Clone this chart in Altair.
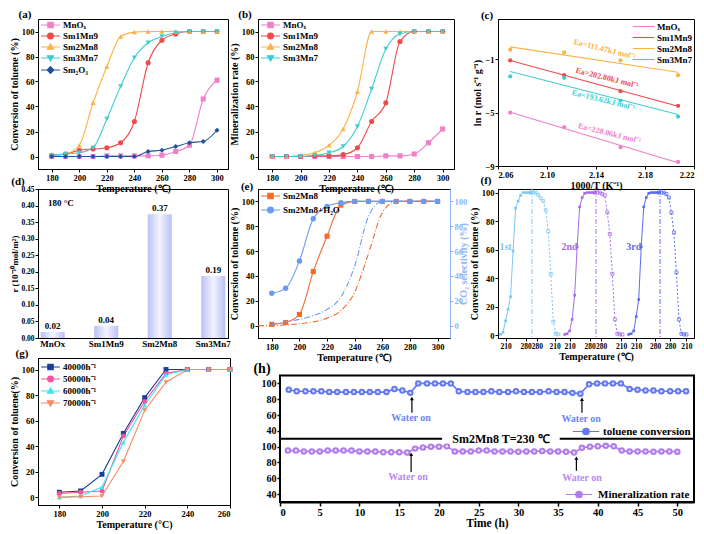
import altair as alt
import pandas as pd

FONT = "Liberation Serif"

# ---------------- (a) conversion of toluene ----------------
temps = [180, 190, 200, 210, 220, 230, 240, 250, 260, 270, 280, 290, 300]
a_names = ["MnOₓ", "Sm1Mn9", "Sm2Mn8", "Sm3Mn7", "Sm₂O₃"]
a_mnox = [0, 0, 0, 0, 0.5, 0.5, 0.5, 0.5, 1, 4, 9, 46, 61]
a_sm1mn9 = [1, 2, 5, 6, 7, 11, 28, 75, 93, 98, 100, 100, 100]
a_sm2mn8 = [1, 2, 9, 43, 72, 96, 99.5, 100, 100, 100, 100, 100, 100]
a_sm3mn7 = [1, 2, 3, 7, 30, 56, 79, 91, 96, 99, 100, 100, 100]
a_sm2o3 = [0, 0, 0, 0, 0, 0, 0, 4, 5, 8, 11, 12, 21]

# ---------------- (b) mineralization rate ----------------
b_names = ["MnOₓ", "Sm1Mn9", "Sm2Mn8", "Sm3Mn7"]
b_mnox = [0, 0, 0, 0, 0, 0, 0, 0, 0.5, 0.5, 2, 11, 22]
b_sm1mn9 = [0, 0, 0, 0.5, 0.5, 1.5, 7, 28, 43, 92, 100, 100, 100]
b_sm2mn8 = [0, 0, 1, 3, 9, 22, 52, 100, 100, 100, 100, 100, 100]
b_sm3mn7 = [0, 0, 0, 1, 3, 8, 24, 54, 86, 98, 100, 100, 100]

# ---------------- (c) Arrhenius ----------------
c_x = [2.070, 2.114, 2.160, 2.207]
c_names = ["MnOₓ", "Sm1Mn9", "Sm2Mn8", "Sm3Mn7"]
c_mnox = [-5.0, -6.1, -7.6, -8.7]
c_sm1mn9 = [-1.1, -2.2, -3.4, -4.5]
c_sm2mn8 = [-0.3, -0.5, -1.1, -2.2]
c_sm3mn7 = [-2.3, -2.4, -4.1, -5.3]
c_ann_text = ["Ea=111.47kJ mol⁻¹", "Ea=202.80kJ mol⁻¹", "Ea=193.62kJ mol⁻¹", "Ea=228.06kJ mol⁻¹"]
c_ann_x = [2.147, 2.149, 2.146, 2.151]
c_ann_y = [-0.3, -2.45, -4.1, -6.6]

# ---------------- (d) rate at 180 C ----------------
d_cat = ["MnOx", "Sm1Mn9", "Sm2Mn8", "Sm3Mn7"]
d_val = [0.018, 0.037, 0.374, 0.187]
d_lab = ["0.02", "0.04", "0.37", "0.19"]

# ---------------- (e) water effect ----------------
e_names = ["Sm2Mn8", "Sm2Mn8+H₂O"]
e_sm2mn8 = [1, 2.5, 9, 43.5, 72, 97, 100, 100, 100, 100, 100, 100, 100]
e_h2o = [26, 30, 52, 86, 96, 99, 100, 100, 100, 100, 100, 100, 100]
e_co2_temps = [170, 180, 190, 200, 210, 220, 230, 240, 250, 260, 270, 280, 290, 300]
e_co2_sm2mn8 = [0, 0, 0.5, 1.5, 3, 6, 12, 27, 58, 91, 100, 100, 100, 100]
e_co2_h2o = [1, 3, 5, 8, 13, 23, 48, 88, 100, 100, 100, 100, 100]

# ---------------- (f) cycles ----------------
f_step = list(range(24))
f_offset = [0, 25.5, 51]
f_c1 = [0.5, 2, 10, 18, 27, 59, 89, 94, 98, 100, 100, 100, 100, 100, 100,
        98.5, 96, 94, 87.5, 73, 43, 9.5, 1, 0.5]
f_c2 = [0.5, 1, 3, 11, 28, 62, 90, 96.5, 99.5, 100, 100, 100, 100, 100, 100,
        99, 98, 86, 71, 43, 11, 1, 0.5, 0.5]
f_c3 = [0.5, 1, 3, 13, 25, 62, 90, 96.5, 99.5, 100, 100, 100, 100, 100, 100,
        99, 96.5, 86, 72, 44, 11, 1, 0.5, 0.5]
f_names = ["1st", "2nd", "3rd"]
f_peak = [12.5, 38, 63.5]
f_tick_pos = [2, 10, 14.5, 21.5, 27.5, 35.5, 40, 48, 54, 61.5, 67.5, 74]
f_tick_lab = ["210", "280", "280", "210"] * 3

# ---------------- (g) space velocity ----------------
g_temps = [180, 190, 200, 210, 220, 230, 240, 250, 260]
g_names = ["40000h⁻¹", "50000h⁻¹", "60000h⁻¹", "70000h⁻¹"]
g_40k = [4, 5, 18, 50, 78, 100, 100, 100, 100]
g_50k = [3, 4, 5, 48, 75, 97, 100, 100, 100]
g_60k = [0, 1, 8, 43, 72, 96, 100, 100, 100]
g_70k = [0, 0.5, 1, 28, 68, 90, 100, 100, 100]

# ---------------- (h) stability ----------------
h_t_top = [1.1, 2.1, 3.2, 4.2, 5.2, 6.2, 7.2, 8.3, 9.3, 10.3, 11.3, 12.3, 13.4, 14.4, 15.4,
           16.4, 17.4, 18.5, 19.5, 20.5, 21.5, 22.5, 23.6, 24.6, 25.6, 26.6, 27.6, 28.7,
           29.7, 30.7, 31.7, 32.7, 33.8, 34.8, 35.8, 36.8, 37.8, 38.9, 39.9, 40.9, 41.9,
           42.9, 44.0, 45.0, 46.0, 47.0, 48.0, 49.1, 50.1, 51.1]
h_v_top = [92, 90, 90, 90, 90, 89, 89, 89, 89, 89, 89, 89, 89, 93, 91, 88,
           100, 100, 100, 100, 100,
           90, 89, 89, 89, 90, 89, 89, 90, 89, 89, 89, 90, 89, 89, 88,
           87,
           99, 100, 100, 100, 100,
           93, 92, 91, 91, 90, 90, 90, 90]
h_t_bot = list(range(1, 51))
h_v_bot = [95, 95, 94, 94, 94, 95, 95, 95, 95, 94, 94, 94, 93, 93, 93,
           92.5,
           97.5, 99, 100, 100, 100.5,
           94, 94, 94, 95, 95, 94, 94, 94, 93.5, 94, 94, 94.5, 94, 94, 93.5,
           92.5,
           98.5, 100, 100.5, 101, 100.5,
           95, 94, 94, 94, 93.5, 94, 94, 93.5]
h_top_arrow_t = [16.6, 38.0]
h_top_arrow_tip = [81, 80]
h_top_arrow_tail = [63, 63]
h_top_text_t = [16.5, 37.9]
h_top_text_v = [56, 55.5]
h_bot_arrow_t = [16.5, 37.3]
h_bot_arrow_tip = [90.5, 85.5]
h_bot_arrow_tail = [68, 69.5]
h_bot_text_t = [16.1, 38.0]
h_bot_text_v = [61, 60.4]
H_PANEL_SHIFT = 80  # upper panel (30-110) stacked above the lower one (30-110)

# ---------------- styling ----------------
C_MNOX, C_SM1, C_SM2, C_SM3, C_SM2O3 = "#EE80C8", "#F04A4A", "#FDB247", "#3FCDD0", "#20509F"
C_E1, C_E2, C_E_AX = "#F26B2B", "#6A9BF2", "#8FB4F5"
F_COLS = ["#7CC8F4", "#A86CEB", "#5B6CF0"]
G_COLS = ["#1B3D99", "#F2559F", "#3DE6F0", "#F68B5E"]
C_H1, C_H2 = "#6478F0", "#B07BEA"

# legend symbols: a line with the series marker in its middle
P_LINE = "M-2.4,0H2.4"
P_SQ = "M-2.1,0H2.1M-0.6,-0.6H0.6V0.6H-0.6Z"
P_CI = "M-2.1,0H2.1M-0.65,0A0.65,0.65,0,1,0,0.65,0A0.65,0.65,0,1,0,-0.65,0Z"
P_TU = "M-2.1,0H2.1M0,-0.7L0.7,0.5H-0.7Z"
P_TD = "M-2.1,0H2.1M0,0.7L0.7,-0.5H-0.7Z"
P_DI = "M-2.1,0H2.1M0,-0.75L0.75,0L0,0.75L-0.75,0Z"
P_CI_H = "M-2.2,0H2.2M-0.55,0A0.55,0.55,0,1,0,0.55,0A0.55,0.55,0,1,0,-0.55,0Z"


def legend_layer(field, names, colors, paths, lx, ly, size=81, fsize=9, rowpad=0, loff=7):
    leg = alt.Legend(orient="none", legendX=lx, legendY=ly, title=None, symbolSize=size,
                     labelFont=FONT, labelFontWeight="bold", labelFontSize=fsize,
                     symbolStrokeWidth=1.1, rowPadding=rowpad, padding=1, labelOffset=loff)
    cs = alt.Scale(domain=names, range=colors)
    ss = alt.Scale(domain=names, range=paths)
    return alt.Chart(pd.DataFrame({field: names})).mark_point(filled=True, opacity=1).encode(
        fill=alt.Fill(f"{field}:N", scale=cs, legend=leg),
        stroke=alt.Stroke(f"{field}:N", scale=cs, legend=leg),
        shape=alt.Shape(f"{field}:N", scale=ss, legend=leg),
    ).transform_filter("false")


def panel_label(txt, dx, dy, size=11):
    return alt.Chart(pd.DataFrame({"lbl": [txt]})).mark_text(
        font=FONT, fontWeight="bold", fontSize=size, align="center", baseline="middle", color="black"
    ).encode(x=alt.value(dx), y=alt.value(dy), text="lbl:N")


def temp_x(domain, title="Temperature (℃)", values=(180, 200, 220, 240, 260, 280, 300)):
    return alt.X("T:Q", scale=alt.Scale(domain=domain, nice=False, zero=False),
                 axis=alt.Axis(values=list(values), title=title))


def pct_y(domain, title, field="v:Q"):
    return alt.Y(field, scale=alt.Scale(domain=domain, nice=False, zero=False),
                 axis=alt.Axis(values=[0, 20, 40, 60, 80, 100], title=title))


def series_layers(xs, lists, cols, shapes, X, Y, interp, size=26):
    lines, pts = [], []
    for vals, c, sh in zip(lists, cols, shapes):
        df = pd.DataFrame({"T": xs, "v": vals})
        lines.append(alt.Chart(df).mark_line(interpolate=interp, strokeWidth=1.1, color=c).encode(x=X, y=Y))
        pts.append(alt.Chart(df).mark_point(filled=True, opacity=1, size=size, shape=sh, color=c).encode(x=X, y=Y))
    return lines + pts


def sigmoid_panel(names, lists, cols, shapes, paths, field, ytitle, label, lx, ly, w, h, leg_y):
    X = temp_x([170, 308])
    Y = pct_y([-10, 110], ytitle)
    return alt.layer(
        *series_layers(temps, lists, cols, shapes, X, Y, "monotone"),
        legend_layer(field, names, cols, paths, 6, leg_y),
        panel_label(label, lx, ly),
    ).properties(width=w, height=h)


# (a)
a_chart = sigmoid_panel(a_names, [a_mnox, a_sm1mn9, a_sm2mn8, a_sm3mn7, a_sm2o3],
                        [C_MNOX, C_SM1, C_SM2, C_SM3, C_SM2O3],
                        ["square", "circle", "triangle-up", "triangle-down", "diamond"],
                        [P_SQ, P_CI, P_TU, P_TD, P_DI], "sa_leg",
                        "Conversion of toluene (%)", "(a)", -13, -4, 190, 150, -0.5)
# (b)
b_chart = sigmoid_panel(b_names, [b_mnox, b_sm1mn9, b_sm2mn8, b_sm3mn7],
                        [C_MNOX, C_SM1, C_SM2, C_SM3],
                        ["square", "circle", "triangle-up", "triangle-down"],
                        [P_SQ, P_CI, P_TU, P_TD], "sb_leg",
                        "Mineralization rate (%)", "(b)", -13, -4, 196, 150, -0.5)

# (c)
c_cols = [C_MNOX, C_SM1, C_SM2, C_SM3]
xc = alt.X("x:Q", scale=alt.Scale(domain=[2.06, 2.22], nice=False, zero=False),
           axis=alt.Axis(values=[2.06, 2.08, 2.10, 2.12, 2.14, 2.16, 2.18, 2.20, 2.22],
                         format=".2f", title="1000/T (K⁻¹)"))
yc = alt.Y("y:Q", scale=alt.Scale(domain=[-9, 2], nice=False, zero=False),
           axis=alt.Axis(values=list(range(-9, 3)), title="ln r (mol s⁻¹ g⁻¹)"))
c_layers = []
for vals, c in zip([c_mnox, c_sm1mn9, c_sm2mn8, c_sm3mn7], c_cols):
    dfc = pd.DataFrame({"x": c_x, "y": vals})
    c_layers.append(alt.Chart(dfc).transform_regression("x", "y").mark_line(strokeWidth=1.1, color=c).encode(x=xc, y=yc))
    c_layers.append(alt.Chart(dfc).mark_point(filled=True, opacity=1, size=18, shape="circle", color=c).encode(x=xc, y=yc))
df_cann = pd.DataFrame({"x": c_ann_x, "y": c_ann_y, "t": c_ann_text,
                        "col": [C_SM2, C_SM1, C_SM3, C_MNOX]})
c_chart = alt.layer(
    *c_layers,
    alt.Chart(df_cann).mark_text(angle=14, fontSize=8, fontWeight="bold", font=FONT).encode(
        x="x:Q", y="y:Q", text="t:N", color=alt.Color("col:N", scale=None)),
    legend_layer("sc_leg", c_names, c_cols, [P_LINE] * 4, 139, 1, loff=8),
    panel_label("(c)", -11, -3),
).properties(width=196, height=147)

# (d)
df_d = pd.DataFrame({"cat": d_cat, "val": d_val, "lab": d_lab})
xd = alt.X("cat:N", sort=d_cat, scale=alt.Scale(paddingInner=0.55, paddingOuter=0.05),
           axis=alt.Axis(title=None, labelAngle=0, ticks=False, labelFontSize=9))
yd = alt.Y("val:Q", scale=alt.Scale(domain=[0, 0.45], nice=False),
           axis=alt.Axis(values=[0, 0.05, 0.1, 0.15, 0.2, 0.25, 0.3, 0.35, 0.4, 0.45],
                         format=".2f", title="r (10⁻¹⁰mol/m²)", labelFontSize=7.5,
                         titleFontSize=9, titlePadding=1))
grad = alt.Gradient(gradient="linear", x1=0, x2=1, y1=0, y2=0,
                    stops=[alt.GradientStop(color="#B9C1F5", offset=0),
                           alt.GradientStop(color="#F3F4FF", offset=0.5),
                           alt.GradientStop(color="#B9C1F5", offset=1)])
d_chart = alt.layer(
    alt.Chart(df_d).mark_bar(color=grad).encode(x=xd, y=yd),
    alt.Chart(df_d).mark_text(dy=-6, fontSize=9, fontWeight="bold", font=FONT, color="black").encode(
        x=xd, y=yd, text="lab:N"),
    alt.Chart(pd.DataFrame({"t": ["180 °C"]})).mark_text(
        align="left", fontSize=9, fontWeight="bold", font=FONT, color="black").encode(
        x=alt.value(10), y=alt.value(14), text="t:N"),
    panel_label("(d)", -20, -7),
).properties(width=190, height=149)

# (e)
xe = temp_x([170, 309])
df_e1 = pd.DataFrame({"T": temps, "v": e_sm2mn8})
df_e2 = pd.DataFrame({"T": temps, "v": e_h2o})
df_ec1 = pd.DataFrame({"T": e_co2_temps, "w": e_co2_sm2mn8})
df_ec2 = pd.DataFrame({"T": temps, "w": e_co2_h2o})
ye = pct_y([-10, 110], "Conversion of toluene (%)")
ye2 = alt.Y("w:Q", scale=alt.Scale(domain=[-10, 110], nice=False, zero=False),
            axis=alt.Axis(orient="right", values=[0, 20, 40, 60, 80, 100], title="CO₂ selectivity (%)",
                          labelColor=C_E_AX, titleColor=C_E_AX, tickColor=C_E_AX,
                          domainColor=C_E_AX, titleAngle=270))
e_left = alt.layer(
    alt.Chart(df_e1).mark_line(interpolate="monotone", strokeWidth=1.1, color=C_E1).encode(x=xe, y=ye),
    alt.Chart(df_e1).mark_point(filled=True, opacity=1, size=26, shape="square", color=C_E1).encode(x=xe, y=ye),
    alt.Chart(df_e2).mark_line(interpolate="monotone", strokeWidth=1.1, color=C_E2).encode(x=xe, y=ye),
    alt.Chart(df_e2).mark_point(filled=True, opacity=1, size=30, shape="circle", color=C_E2).encode(x=xe, y=ye),
    legend_layer("se_leg", e_names, [C_E1, C_E2], [P_SQ, P_CI], 6, 0.5, rowpad=3),
    panel_label("(e)", -11, -2),
)
e_right = alt.layer(
    alt.Chart(df_ec1).mark_line(interpolate="monotone", strokeWidth=1.1, color=C_E1,
                                strokeDash=[6, 2, 1, 2]).encode(x=xe, y=ye2),
    alt.Chart(df_ec2).mark_line(interpolate="monotone", strokeWidth=1.1, color=C_E2,
                                strokeDash=[6, 2, 1, 2]).encode(x=xe, y=ye2),
)
e_chart = alt.layer(e_left, e_right).resolve_scale(y="independent").properties(width=192, height=149)

# (f)
f_expr = "".join(f"datum.value == {p} ? '{l}' : " for p, l in zip(f_tick_pos, f_tick_lab)) + "''"
xf = alt.X("s:Q", scale=alt.Scale(domain=[-1, 77], nice=False, zero=False),
           axis=alt.Axis(values=f_tick_pos, labelExpr=f_expr, title="Temperature (℃)",
                         labelOverlap=False, labelFontSize=7.5))
yf = alt.Y("v:Q", scale=alt.Scale(domain=[-2, 102.5], nice=False, zero=False),
           axis=alt.Axis(values=[0, 20, 40, 60, 80, 100], title="Conversion of toluene (%)"))
f_layers = []
for k, vals in enumerate([f_c1, f_c2, f_c3]):
    c = F_COLS[k]
    dfk = pd.DataFrame({"s": [f_offset[k] + i for i in f_step], "v": vals})
    heat = dfk.iloc[:13]
    cool = dfk.iloc[12:]
    f_layers += [
        alt.Chart(heat).mark_line(color=c, strokeWidth=1).encode(x=xf, y=yf),
        alt.Chart(cool).mark_line(color=c, strokeWidth=1, strokeDash=[2, 2]).encode(x=xf, y=yf),
        alt.Chart(heat).mark_point(shape="square", filled=True, size=7, color=c, opacity=1).encode(x=xf, y=yf),
        alt.Chart(cool).mark_point(shape="square", filled=False, size=9, color=c, opacity=1,
                                   strokeWidth=0.8).encode(x=xf, y=yf),
    ]
df_fpeak = pd.DataFrame({"s": f_peak, "col": F_COLS})
df_fname = pd.DataFrame({"s": [o + 2 for o in f_offset], "v": [62, 62, 62], "t": f_names, "col": F_COLS})
f_chart = alt.layer(
    *f_layers,
    alt.Chart(df_fpeak).mark_rule(strokeDash=[5, 2, 1, 2], strokeWidth=1).encode(
        x=xf, color=alt.Color("col:N", scale=None)),
    alt.Chart(df_fname).mark_text(fontSize=10, fontWeight="bold", font=FONT).encode(
        x=xf, y=yf, text="t:N", color=alt.Color("col:N", scale=None)),
    panel_label("(f)", -12, -8),
).properties(width=196, height=149)

# (g)
Xg = temp_x([170, 260], title="Temperature (°C)", values=(180, 200, 220, 240, 260))
Yg = pct_y([-6, 109], "Conversion of toluene(%)")
g_chart = alt.layer(
    *series_layers(g_temps, [g_40k, g_50k, g_60k, g_70k], G_COLS,
                   ["square", "circle", "triangle-up", "triangle-down"], Xg, Yg, "linear", size=24),
    legend_layer("sg_leg", g_names, G_COLS, [P_SQ, P_CI, P_TU, P_TD], 6, 2.5, rowpad=1),
    panel_label("(g)", -16, -4),
).properties(width=192, height=147)

# (h) two stacked panels drawn on one stacked value axis
HY_DOM = [30, 212.1]
xh = alt.X("t:Q", scale=alt.Scale(domain=[0, 52.1], range=[22, 436], nice=False, zero=False),
           axis=alt.Axis(values=list(range(0, 55, 5)), title="Time (h)", labelFontSize=10.5,
                         titleFontSize=11.5, tickSize=4, domainWidth=2, tickWidth=1.5, titlePadding=0))
yh = alt.Y("yy:Q", scale=alt.Scale(domain=HY_DOM, nice=False, zero=False),
           axis=alt.Axis(values=[40, 60, 80, 100, 120, 140, 160, 180], title=None, labelFontSize=10,
                         domain=False, tickWidth=1.5, offset=-22,
                         labelExpr=f"datum.value > 110 ? format(datum.value - {H_PANEL_SHIFT}, 'd') : format(datum.value, 'd')"))


def stab_layers(ts, vs, shift, c, light, arrow_t, arrow_tip, arrow_tail, text_t, text_v, tcol):
    df = pd.DataFrame({"t": ts, "v": vs})
    arr = pd.DataFrame({"t": arrow_t, "v": arrow_tip, "v2": arrow_tail})
    txt = pd.DataFrame({"t": text_t, "v": text_v, "lab": ["Water on", "Water on"]})
    calc = dict(yy=f"datum.v + {shift}")
    return [
        alt.Chart(df).transform_calculate(**calc).mark_line(color=c, strokeWidth=1.6).encode(x=xh, y=yh),
        alt.Chart(df).transform_calculate(**calc).mark_point(filled=True, opacity=1, size=42, shape="circle", color=c).encode(x=xh, y=yh),
        alt.Chart(df).transform_calculate(**calc).mark_point(filled=True, opacity=1, size=6, shape="circle", color=light).encode(x=xh, y=yh),
        alt.Chart(arr).transform_calculate(yy=f"datum.v + {shift}", yy2=f"datum.v2 + {shift}").mark_rule(
            color="black", strokeWidth=1.2).encode(x=xh, y=yh, y2="yy2:Q"),
        alt.Chart(arr).transform_calculate(**calc).mark_point(shape="triangle-up", filled=True, opacity=1, size=16,
                                                              color="black").encode(x=xh, y=yh),
        alt.Chart(txt).transform_calculate(**calc).mark_text(fontSize=10, fontWeight="bold", font=FONT,
                                                             color=tcol).encode(x=xh, y=yh, text="lab:N"),
    ]


df_hframe = pd.DataFrame({"t": [0], "t2": [52.1], "yy": [30], "yy2": [190]})
df_hdiv = pd.DataFrame({"t": [0], "t2": [52.1], "yy": [110]})
df_title = pd.DataFrame({"t": [27.8], "yy": [110], "lab": ["Sm2Mn8  T=230 ℃"]})
df_tbox = pd.DataFrame({"t": [20.4], "t2": [35.2], "yy": [104], "yy2": [116]})
h_chart = alt.layer(
    alt.Chart(df_hframe).mark_rect(filled=False, stroke="black", strokeWidth=2).encode(
        x=xh, x2="t2:Q", y=yh, y2="yy2:Q"),
    alt.Chart(df_hdiv).mark_rule(color="black", strokeWidth=2).encode(x=xh, x2="t2:Q", y=yh),
    *stab_layers(h_t_top, h_v_top, H_PANEL_SHIFT, C_H1, "#D9DFFF", h_top_arrow_t, h_top_arrow_tip,
                 h_top_arrow_tail, h_top_text_t, h_top_text_v, "#6E86F2"),
    *stab_layers(h_t_bot, h_v_bot, 0, C_H2, "#EEE2FF", h_bot_arrow_t, h_bot_arrow_tip,
                 h_bot_arrow_tail, h_bot_text_t, h_bot_text_v, "#B68AF0"),
    alt.Chart(df_tbox).mark_rect(color="white").encode(x=xh, x2="t2:Q", y=yh, y2="yy2:Q"),
    alt.Chart(df_title).mark_text(fontSize=12, fontWeight="bold", font=FONT, color="black").encode(
        x=xh, y=yh, text="lab:N"),
    legend_layer("sh1_leg", ["toluene conversion"], [C_H1], [P_CI_H], 320, 65.5,
                 size=144, fsize=11, loff=10),
    legend_layer("sh2_leg", ["Mineralization rate"], [C_H2], [P_CI_H], 313, 128.5,
                 size=144, fsize=11, loff=12),
    panel_label("(h)", 4, 10.5, size=14),
).resolve_scale(fill="independent", stroke="independent", shape="independent").properties(
    width=196, height=144, view=alt.ViewBackground(strokeOpacity=0))


def spacer(w):
    return alt.Chart(pd.DataFrame({"z": [0]})).mark_point(opacity=0).encode(
        x=alt.value(0), y=alt.value(0)).properties(width=w, height=1, view=alt.ViewBackground(strokeOpacity=0))


chart = alt.concat(
    a_chart, spacer(28), b_chart, spacer(44), c_chart,
    d_chart, spacer(28), e_chart, spacer(44), f_chart,
    g_chart, spacer(28), h_chart,
    columns=5, spacing={"row": 20, "column": 0}, bounds="flush", align="each",
).resolve_scale(color="independent", fill="independent", stroke="independent", shape="independent").properties(
    padding={"left": 0, "top": 0, "right": 0, "bottom": 0}
).configure_view(stroke="black", strokeWidth=1).configure_axis(
    labelFont=FONT, titleFont=FONT, labelFontWeight="bold", titleFontWeight="bold",
    labelFontSize=8.5, titleFontSize=10, labelColor="black", titleColor="black",
    tickColor="black", domainColor="black", grid=False, tickSize=3, labelPadding=1, titlePadding=2,
).configure_legend(labelFont=FONT, titleFont=FONT).configure_text(font=FONT)

chart.save("out.html", embed_options={"renderer": "svg", "actions": False})
